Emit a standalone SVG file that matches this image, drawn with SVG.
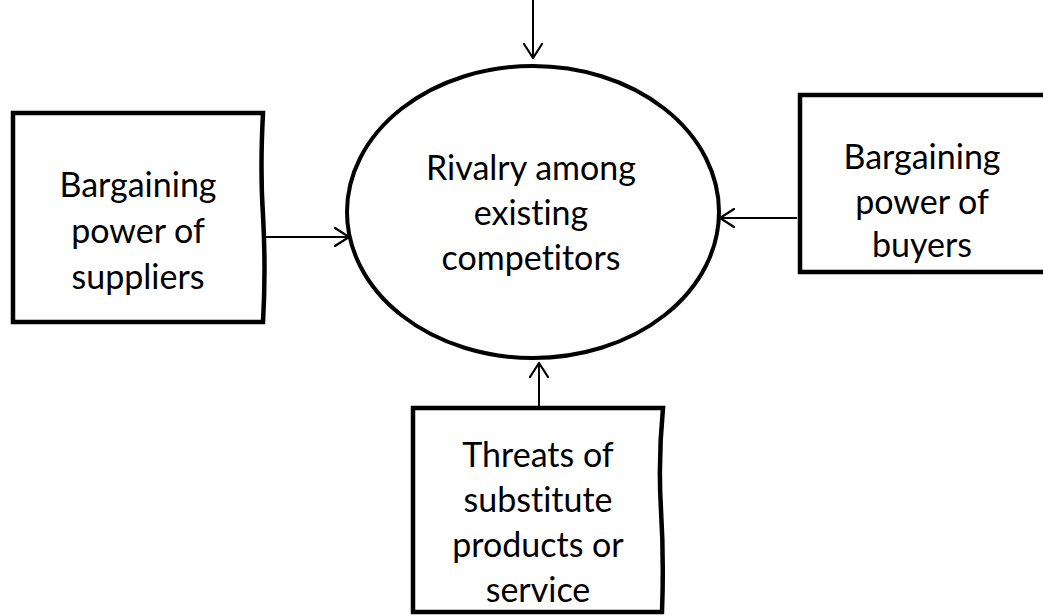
<svg xmlns="http://www.w3.org/2000/svg" width="1043" height="616" viewBox="0 0 1043 616">
  <defs>
    <style>
      .box { fill: #ffffff; stroke: #000000; stroke-width: 4.5; stroke-linejoin: miter; }
      .oval { fill: #ffffff; stroke: #000000; stroke-width: 4; }
      .label { font-family: Lato, "Open Sans", sans-serif; font-size: 34px; fill: #000000; text-anchor: middle; font-variant-ligatures: none; }
      .conn { fill: none; stroke: #000000; stroke-width: 2; }
    </style>
    <marker id="open-arrow" viewBox="0 0 20 20" refX="18" refY="10" markerWidth="20" markerHeight="20" markerUnits="userSpaceOnUse" orient="auto">
      <path d="M4,1 L18,10 L4,19" fill="none" stroke="#000000" stroke-width="2.2" stroke-linecap="round" stroke-linejoin="round"/>
    </marker>
  </defs>

  <rect width="1043" height="616" fill="#ffffff"/>

  <!-- central force -->
  <g id="rivalry">
    <ellipse class="oval" cx="533" cy="212" rx="186" ry="146"/>
    <text class="label" x="531" y="180">Rivalry among</text>
    <text class="label" x="531" y="225">existing</text>
    <text class="label" x="531" y="270">competitors</text>
  </g>

  <!-- suppliers -->
  <g id="suppliers">
    <path class="box" d="M13,113 L263,113 Q260,170 263,215 Q266,270 263,322 L13,322 Z"/>
    <text class="label" x="138" y="197">Bargaining</text>
    <text class="label" x="138" y="243">power of</text>
    <text class="label" x="138" y="289">suppliers</text>
  </g>

  <!-- buyers -->
  <g id="buyers">
    <path class="box" d="M800,95 L1050,95 L1050,272 L800,272 Z"/>
    <text class="label" x="922" y="169">Bargaining</text>
    <text class="label" x="922" y="214">power of</text>
    <text class="label" x="922" y="257">buyers</text>
  </g>

  <!-- substitutes -->
  <g id="substitutes">
    <path class="box" d="M413,408 L663,408 Q658,460 661,510 Q664,560 662,612 L413,612 Z"/>
    <text class="label" x="538" y="467">Threats of</text>
    <text class="label" x="538" y="512">substitute</text>
    <text class="label" x="538" y="557">products or</text>
    <text class="label" x="538" y="602">service</text>
  </g>

  <!-- connectors -->
  <g id="connectors">
    <line class="conn" x1="533" y1="0" x2="533" y2="58" marker-end="url(#open-arrow)"/>
    <line class="conn" x1="265" y1="237" x2="349" y2="237" marker-end="url(#open-arrow)"/>
    <line class="conn" x1="797" y1="218" x2="720" y2="218" marker-end="url(#open-arrow)"/>
    <line class="conn" x1="539" y1="406" x2="539" y2="363" marker-end="url(#open-arrow)"/>
  </g>
</svg>
